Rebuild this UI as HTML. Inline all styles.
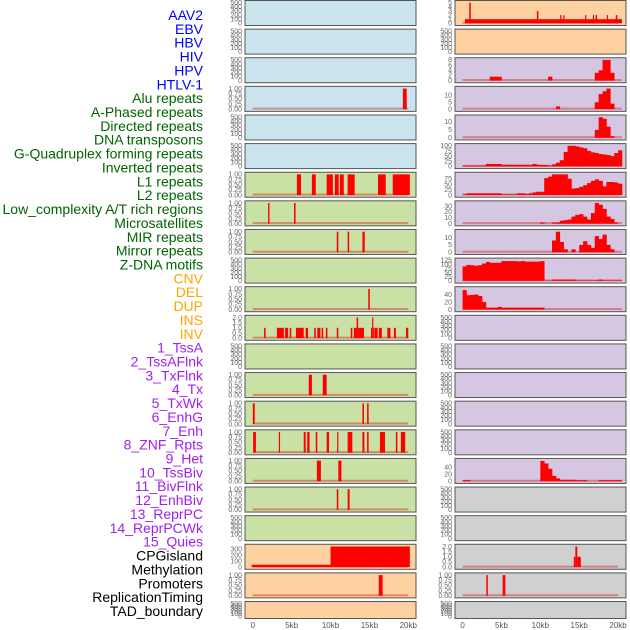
<!DOCTYPE html>
<html><head><meta charset="utf-8">
<style>
html,body{margin:0;padding:0;background:#fff;}
svg{display:block;font-family:"Liberation Sans",sans-serif;}
</style></head>
<body>
<svg id="chart" width="630" height="630" viewBox="0 0 630 630" xmlns="http://www.w3.org/2000/svg"></svg>
<script>
// ---- feature labels ----
const labels = ["AAV2","EBV","HBV","HIV","HPV","HTLV-1","Alu repeats","A-Phased repeats","Directed repeats","DNA transposons","G-Quadruplex forming repeats","Inverted repeats","L1 repeats","L2 repeats","Low_complexity A/T rich regions","Microsatellites","MIR repeats","Mirror repeats","Z-DNA motifs","CNV","DEL","DUP","INS","INV","1_TssA","2_TssAFlnk","3_TxFlnk","4_Tx","5_TxWk","6_EnhG","7_Enh","8_ZNF_Rpts","9_Het","10_TssBiv","11_BivFlnk","12_EnhBiv","13_ReprPC","14_ReprPCWk","15_Quies","CPGisland","Methylation","Promoters","ReplicationTiming","TAD_boundary"];
const labelGroups = ["virus","virus","virus","virus","virus","virus","repeat","repeat","repeat","repeat","repeat","repeat","repeat","repeat","repeat","repeat","repeat","repeat","repeat","sv","sv","sv","sv","sv","chrom","chrom","chrom","chrom","chrom","chrom","chrom","chrom","chrom","chrom","chrom","chrom","chrom","chrom","chrom","other","other","other","other","other"];
const xTicks = [0,5,10,15,20];
const xTickLabels = ["0","5kb","10kb","15kb","20kb"];
const binWidth = 0.5; // kb

// ---- segment data: [startKb, endKb, value] ----
const hivSegs = [[19.3,19.8,1]];
const aluSegs = [[5.67,6.2,1],[7.6,8.1,1],[9.5,10.3,1],[10.55,11.05,1],[11.2,11.7,1],[12.2,13.1,1],[16.1,17.1,1],[18.0,20.2,1]];
const aphasedSegs = [[1.97,2.15,1],[5.3,5.5,1]];
const directedSegs = [[10.8,11.0,1],[12.2,12.4,1],[14.1,14.4,1]];
const gquadSegs = [[14.85,15.05,1]];
const invertedSegs = [[1.45,1.65,1],[3.1,4.0,1],[4.15,4.55,1],[4.75,4.95,1],[5.55,6.55,1],[6.8,7.1,1],[7.9,8.1,1],[8.3,8.7,1],[8.85,9.05,1],[9.4,9.6,1],[10.8,11.0,1],[12.6,12.8,1],[13.0,13.35,1],[13.35,13.55,2],[13.55,14.3,1],[15.2,15.35,1],[15.35,15.5,2],[15.5,15.55,1],[15.7,16.05,1],[16.2,16.6,1],[17.3,17.7,1],[18.15,18.4,1],[19.7,20.0,1]];
const l2Segs = [[7.2,7.6,1],[9.0,9.5,1]];
const lowcSegs = [[0.0,0.25,1],[14.1,14.3,1],[14.7,14.9,1]];
const microSegs = [[0.05,0.4,1],[3.35,3.5,1],[6.55,6.8,1],[7.0,7.3,1],[8.1,8.3,1],[9.5,9.8,1],[10.85,11.0,1],[12.2,12.8,1],[14.1,14.35,1],[14.7,14.9,1],[16.35,17.0,1],[18.4,18.6,1],[19.05,19.6,1]];
const mirSegs = [[8.24,8.76,1],[11.0,11.4,1]];
const mirrorSegs = [[10.8,11.0,1],[12.2,12.45,1]];
const cnvSegs = [[-0.15,10.0,40],[10.0,20.2,350]];
const delSegs = [[16.2,16.7,1]];
const insSegs = [[0.3,20.5,1],[0.85,1.05,5],[9.55,9.75,3],[12.55,12.7,2],[12.95,13.1,2],[15.75,15.9,2],[16.75,16.9,2],[17.1,17.3,2],[18.55,18.7,2],[19.7,19.9,2]];
const methylSegs = [[14.3,14.5,1],[14.5,14.75,2],[14.75,15.2,1]];
const promoterSegs = [[3.05,3.25,1],[5.15,5.5,1]];

// ---- binned data (0.5 kb bins starting at 0) ----
const tssaBins = [0,0,0,0,0,0,0,1.5,1.5,1.5,0,0,0,0,0,0,0,0,0,0,0,0,1.5,0,0,0,0,0,0,0,0,0,0,0,3,4,8,8,3,0];
const tssaFlnkBins = [0,0,0,0,0,0,0,0,0,0,0,0,0,0,0,0,0,0,0,0,0,0,0,0,2,0,0,0,0,0,0,0,0,0,5,11,13,15,4,0];
const txFlnkBins = [0,0,0,0,0,0,0,0,0,0,0,0,0,0,0,0,0,0,0,0,0,0,0,0,0,0,0,0,0,0,0,0,0,0,5,13,12,7,1,0];
const txBins = [4,4,4,4,4,4,12,12,12,12,8,8,8,8,8,8,8,8,12,8,7,7,3,10,18,30,70,100,100,97,92,88,75,68,65,60,58,55,50,65,78];
const txWkBins = [3,8,8,8,8,8,8,8,8,8,3,3,3,3,8,8,5,8,12,15,15,78,85,95,95,95,95,75,30,32,38,45,55,65,72,65,40,60,60,58,52];
const enhGBins = [0,0,0,0,0,0,0,0,0,0,0,0,0,0,0,0,0,0,0,0,2,0,0,2,2,5,6,7,12,15,16,12,7,18,35,32,25,12,8,2,0];
const enhBins = [0,0,0,0,0,0,0,0,0,0,0,0,0,0,0,0,0,0,0,0,0,0,0,8,14,7,2,0,2,0,5,7.5,5,3,11,9,12,5,2,0,0];
const znfBins = [88,97,95,92,95,105,115,110,110,110,120,120,120,120,118,120,117,117,117,117,120,2,2,8,8,8,8,8,8,3,3,3,3,3,3,8,3,3,3,3,3];
const hetBins = [52,38,39,40,36,20,5,5,5,7,5,5,5,5,5,5,5,5,5,5,5,0,0,0,0,0,0,0,0,0,0,0,0,0,0,0,0,0,0,0,0];
const tssBivBins = [3,3,0,0,0,0,0,0,0,0,0,0,0,0,0,0,0,0,0,0,57,50,35,15,8,4,4,4,4,3,3,3,0,0,0,3,3,3,3,3,3];

// ---- empty / axis tick sets ----
const ticksEmpty = [0,100,200,300,400,500];
const ticksUnit = [0,0.25,0.5,0.75,1];
const ticksUnitLabels = ["0.00","0.25","0.50","0.75","1.00"];

const bgColors = {virus:"#c9e4ec", repeat:"#c9e1a5", sv:"#fdd1a0", chrom:"#d5c6e2", other:"#d0d0d0"};
const labelColors = {virus:"#0000ff", repeat:"#006400", sv:"#ffa500", chrom:"#a020f0", other:"#000000"};

// panel slots (left column 0-21, right 22-43)
const panelSegs = {3:hivSegs,6:aluSegs,7:aphasedSegs,8:directedSegs,10:gquadSegs,11:invertedSegs,13:l2Segs,14:lowcSegs,15:microSegs,16:mirSegs,17:mirrorSegs,19:cnvSegs,20:delSegs,22:insSegs,41:methylSegs,42:promoterSegs};
const panelBins = {24:tssaBins,25:tssaFlnkBins,26:txFlnkBins,27:txBins,28:txWkBins,29:enhGBins,30:enhBins,31:znfBins,32:hetBins,38:tssBivBins};
const panelTicks = {
  3:[ticksUnit,ticksUnitLabels,1.0],6:[ticksUnit,ticksUnitLabels,1.0],7:[ticksUnit,ticksUnitLabels,1.0],8:[ticksUnit,ticksUnitLabels,1.0],10:[ticksUnit,ticksUnitLabels,1.0],
  11:[[0,0.5,1,1.5,2],["0.0","0.5","1.0","1.5","2.0"],2.0],13:[ticksUnit,ticksUnitLabels,1.0],14:[ticksUnit,ticksUnitLabels,1.0],15:[ticksUnit,ticksUnitLabels,1.0],
  16:[ticksUnit,ticksUnitLabels,1.0],17:[ticksUnit,ticksUnitLabels,1.0],19:[[0,100,200,300],["0","100","200","300"],350],20:[ticksUnit,ticksUnitLabels,1.0],
  22:[[0,1,2,3,4,5],["0","1","2","3","4","5"],5],24:[[0,2,4,6,8],["0","2","4","6","8"],8],25:[[0,5,10],["0","5","10"],15],26:[[0,5,10],["0","5","10"],13],
  27:[[0,25,50,75,100],["0","25","50","75","100"],100],28:[[0,25,50,75],["0","25","50","75"],95],29:[[0,10,20,30],["0","10","20","30"],35],
  30:[[0,5,10],["0","5","10"],14],31:[[0,25,50,75,100,125],["0","25","50","75","100","125"],125],32:[[0,20,40],["0","20","40"],55],38:[[0,20,40],["0","20","40"],58],
  41:[[0,0.5,1,1.5,2],["0.0","0.5","1.0","1.5","2.0"],2.0],42:[ticksUnit,ticksUnitLabels,1.0]
};

const NS="http://www.w3.org/2000/svg";
const svg=document.getElementById("chart");
function mk(tag,attrs,parent){const e=document.createElementNS(NS,tag);for(const k in attrs)e.setAttribute(k,attrs[k]);(parent||svg).appendChild(e);return e;}

labels.forEach((t,i)=>{
  const e=mk("text",{x:203,y:15+i*13.86+5,"text-anchor":"end","font-size":"14",fill:labelColors[labelGroups[i]]});
  e.textContent=t;
  
  
});

const colX=[245,455];
const dataX0=[252.8,462.6];
const kbScale=155.5/20;
for(let idx=0;idx<44;idx++){
  const col=idx<22?0:1, row=idx%22;
  const top=0.5+row*28.62, h=row===21?17:25;
  const left=colX[col], w=171;
  const g=mk("g",{});
  
  
  mk("rect",{x:left,y:top,width:w,height:h,fill:bgColors[labelGroups[idx]],stroke:"#555","stroke-width":1},g);
  const tk=panelTicks[idx]||[ticksEmpty,ticksEmpty.map(String),500];
  const ymax=tk[2];
  const yB=top+h-2.2, yT=top+2.2;
  const ys=v=>yB-(Math.min(v,ymax)/ymax)*(yB-yT);
  const xs=kb=>dataX0[col]+kb*kbScale;
  tk[0].forEach((v,j)=>{
    const t=mk("text",{x:left-3,y:ys(v)+2.3,"text-anchor":"end","font-size":"7",fill:"#666"},g);
    t.textContent=tk[1][j];
    
    
  });
  const segs=panelSegs[idx], bins=panelBins[idx];
  if(segs||bins){
    const bl=mk("line",{x1:xs(0),x2:xs(bins?20.5:20),y1:yB-0.5,y2:yB-0.5,stroke:"rgba(220,50,50,0.5)","stroke-width":2},g);
    
    
  }
  if(segs){segs.forEach(s=>{
    const r=mk("rect",{x:xs(s[0]),y:ys(s[2]),width:Math.max(1.2,xs(s[1])-xs(s[0])),height:yB-ys(s[2]),fill:"#ff0000"},g);
    
    
  });}
  if(bins){bins.forEach((v,b)=>{
    if(v<=0)return;
    const r=mk("rect",{x:xs(b*binWidth),y:ys(v),width:binWidth*kbScale+0.3,height:yB-ys(v),fill:"#ff0000"},g);
    
    
  });}
}
[0,1].forEach(col=>{
  xTicks.forEach((v,j)=>{
    const t=mk("text",{x:dataX0[col]+v*kbScale,y:628,"text-anchor":"middle","font-size":"8",fill:"#555"});
    t.textContent=xTickLabels[j];
    
    
  });
});
</script>
</body></html>
